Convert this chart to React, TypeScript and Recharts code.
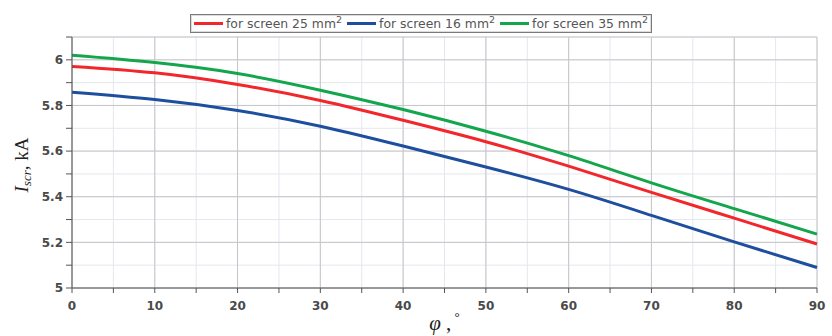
import React from "react";
import { LineChart, Line, XAxis, YAxis, CartesianGrid, Legend } from "recharts";

const angles = [0, 10, 20, 30, 40, 50, 60, 70, 80, 90];
const screen25 = [5.971, 5.943, 5.892, 5.822, 5.735, 5.641, 5.534, 5.419, 5.306, 5.193];
const screen16 = [5.858, 5.826, 5.778, 5.709, 5.622, 5.53, 5.432, 5.318, 5.202, 5.09];
const screen35 = [6.02, 5.988, 5.94, 5.867, 5.782, 5.687, 5.58, 5.461, 5.348, 5.236];

const seriesNames = ["for screen 25", "for screen 16", "for screen 35"];
const seriesKeys = ["s25", "s16", "s35"];
const seriesColors = ["#f2262b", "#1d4f9e", "#14a64c"];

const xTicks = [0, 5, 10, 15, 20, 25, 30, 35, 40, 45, 50, 55, 60, 65, 70, 75, 80, 85, 90];
const xMajor = [0, 10, 20, 30, 40, 50, 60, 70, 80, 90];
const yTicks = [5, 5.1, 5.2, 5.3, 5.4, 5.5, 5.6, 5.7, 5.8, 5.9, 6, 6.1];
const yMajor = [5, 5.2, 5.4, 5.6, 5.8, 6];

const data = angles.map((a, i) => ({
  angle: a,
  s25: screen25[i],
  s16: screen16[i],
  s35: screen35[i],
}));

const W = 832;
const H = 336;

// plot box: x 72..817, y 37..288
const margin = { top: 37, right: 15, bottom: 0, left: 0 };

const tickStyle = { fontFamily: "DejaVu Sans", fontSize: 12, fontWeight: 700, fill: "#4a4a4a" };

function LegendBox() {
  return (
    <div
      style={{
        display: "flex",
        alignItems: "center",
        border: "1px solid #7a7a7a",
        boxShadow: "inset 0 0 0 1px #dcdcdc",
        background: "#fff",
        height: 19,
        width: 462,
        padding: "0 3px",
        fontFamily: "DejaVu Sans",
        fontSize: 12.4,
        color: "#555",
        whiteSpace: "nowrap",
        boxSizing: "border-box",
      }}
    >
      {seriesNames.map((n, i) => (
        <span key={n} style={{ display: "flex", alignItems: "center", marginRight: i < 2 ? 5 : 0 }}>
          <span style={{ display: "inline-block", width: 29, height: 3, background: seriesColors[i], marginRight: 3 }} />
          <span>
            {n} mm<sup style={{ fontSize: 9.5, verticalAlign: 5, lineHeight: 0 }}>2</sup>
          </span>
        </span>
      ))}
    </div>
  );
}

function YLabel() {
  const cx = 21;
  const cy = 165;
  return (
    <text
      x={cx}
      y={cy}
      transform={`rotate(-90 ${cx} ${cy})`}
      textAnchor="middle"
      dominantBaseline="central"
      fontFamily="Liberation Serif"
      fontSize={19}
      fill="#222"
    >
      <tspan fontStyle="italic">I</tspan>
      <tspan fontStyle="italic" fontSize={13} dy={5}>scr</tspan>
      <tspan dy={-5}>, kA</tspan>
    </text>
  );
}

function XLabel(props: any) {
  const vb = props.viewBox || {};
  const cx = vb.x + vb.width / 2;
  return (
    <text x={cx} y={330} textAnchor="middle" fontFamily="Liberation Serif" fontSize={21} fill="#222">
      <tspan fontStyle="italic">φ</tspan>
      <tspan> ,</tspan>
      <tspan fontSize={13} dy={-9}> °</tspan>
    </text>
  );
}

export default function App() {
  return (
    <div style={{ position: "absolute", left: 0, top: 0, width: W, height: H, background: "#fff" }}>
      <LineChart width={W} height={H} data={data} margin={margin}>
        <CartesianGrid stroke="#e4e7ef" strokeWidth={1} verticalValues={xTicks} horizontalValues={yTicks} />
        <CartesianGrid stroke="#c6c6c9" strokeWidth={1} verticalValues={xMajor} horizontalValues={[...yMajor, 6.1]} />
        <XAxis
          dataKey="angle"
          type="number"
          domain={[0, 90]}
          ticks={xTicks}
          interval={0}
          height={48}
          tickSize={5}
          tickMargin={8}
          stroke="#555"
          tick={tickStyle}
          tickFormatter={(v: number) => (v % 10 === 0 ? String(v) : "")}
          label={<XLabel />}
        />
        <YAxis
          type="number"
          domain={[5, 6.1]}
          ticks={yTicks}
          interval={0}
          width={72}
          tickSize={6}
          tickMargin={3}
          stroke="#555"
          tick={tickStyle}
          tickFormatter={(v: number) => (yMajor.includes(v) ? String(v) : "")}
          label={<YLabel />}
        />
        <Legend
          layout="horizontal"
          verticalAlign="middle"
          wrapperStyle={{ top: 14, left: 190, width: "auto" }}
          content={() => <LegendBox />}
        />
        {seriesKeys.map((k, i) => (
          <Line
            key={k}
            dataKey={k}
            name={seriesNames[i]}
            type="natural"
            stroke={seriesColors[i]}
            strokeWidth={3}
            dot={false}
            isAnimationActive={false}
          />
        ))}
      </LineChart>
    </div>
  );
}
